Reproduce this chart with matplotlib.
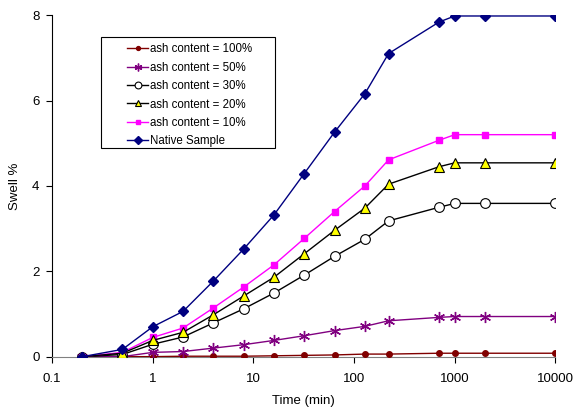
import matplotlib
matplotlib.use("Agg")
import matplotlib.pyplot as plt
from matplotlib.patches import Rectangle
from matplotlib.ticker import FixedLocator, FixedFormatter, NullLocator

# Time points (min)
time = [0.2, 0.5, 1, 2, 4, 8, 16, 32, 64, 128, 220, 700, 1000, 2000, 10000]

# Swell % for each series
ash100 = [0, 0, 0.0, 0.01, 0.01, 0.01, 0.02, 0.03, 0.04, 0.06, 0.06, 0.08, 0.08, 0.08, 0.08]
ash50 = [0, 0, 0.10, 0.12, 0.20, 0.28, 0.38, 0.49, 0.61, 0.71, 0.84, 0.92, 0.94, 0.94, 0.94]
ash30 = [0, 0.05, 0.29, 0.46, 0.79, 1.12, 1.49, 1.91, 2.35, 2.75, 3.18, 3.50, 3.59, 3.59, 3.59]
ash20 = [0, 0.08, 0.38, 0.57, 0.98, 1.42, 1.86, 2.41, 2.96, 3.48, 4.04, 4.45, 4.54, 4.54, 4.54]
ash10 = [0, 0.10, 0.45, 0.67, 1.14, 1.63, 2.15, 2.77, 3.40, 4.00, 4.61, 5.07, 5.20, 5.20, 5.20]
native = [0, 0.17, 0.70, 1.06, 1.77, 2.52, 3.32, 4.29, 5.26, 6.16, 7.10, 7.84, 7.98, 7.98, 7.98]

xticks = [0.1, 1, 10, 100, 1000, 10000]
xlabels = ["0.1", "1", "10", "100", "1000", "10000"]

plt.rcParams["font.family"] = ["Liberation Sans", "DejaVu Sans"]

fig = plt.figure(figsize=(5.8, 4.09), dpi=100)
ax = fig.add_axes([0.0897, 0.128, 0.868, 0.835])

ax.plot(time, ash100, color="#800000", lw=1, marker="o", ms=4,
        mfc="#800000", mec="#800000", label="ash content = 100%", zorder=3)
ax.plot(time, ash50, color="#800080", lw=1, marker=(6, 2, 0), ms=8,
        mec="#800080", mew=1, label="ash content = 50%", zorder=3)
ax.plot(time, ash30, color="black", lw=1, marker="o", ms=7,
        mfc="white", mec="black", mew=0.8, label="ash content = 30%", zorder=4)
ax.plot(time, ash20, color="black", lw=1, marker="^", ms=6.5,
        mfc="#FFFF00", mec="black", mew=0.8, label="ash content = 20%", zorder=5)
ax.plot(time, ash10, color="#FF00FF", lw=1, marker="s", ms=5,
        mfc="#FF00FF", mec="#FF00FF", label="ash content = 10%", zorder=4)
ax.plot(time, native, color="#000080", lw=1, marker="D", ms=5.5,
        mfc="#000080", mec="#000080", label="Native Sample", zorder=6)

ax.set_xscale("log")
ax.set_xlim(0.1, 10000)
ax.set_ylim(0, 8)
ax.xaxis.set_major_locator(FixedLocator(xticks))
ax.xaxis.set_major_formatter(FixedFormatter(xlabels))
ax.xaxis.set_minor_locator(NullLocator())
ax.set_yticks([0, 2, 4, 6, 8])

for s in ["top", "right"]:
    ax.spines[s].set_visible(False)
ax.spines["left"].set_linewidth(0.8)
ax.spines["bottom"].set_linewidth(0.8)
ax.spines["bottom"].set_color("#808080")
ax.tick_params(axis="both", direction="out", length=4, width=0.8, labelsize=9.5)
ax.tick_params(axis="x", pad=8)
ax.tick_params(axis="y", pad=5)

ax.set_xlabel("Time (min)", fontsize=9.5, labelpad=7)
ax.set_ylabel("Swell %", fontsize=9.5, labelpad=8)

# legend without its own frame, box drawn separately for wider side padding
leg = fig.legend(loc="upper left", bbox_to_anchor=(127 / 580, (409 - 43.5) / 409),
                 fontsize=8.3, frameon=False, borderpad=0, borderaxespad=0,
                 handlelength=1.85, handletextpad=0.15, labelspacing=0.55,
                 markerscale=0.7)
fig.add_artist(Rectangle((101 / 580, (409 - 148) / 409), 174 / 580, 111 / 409,
                         transform=fig.transFigure, facecolor="white",
                         edgecolor="black", lw=0.8, zorder=2))
leg.set_zorder(3)

fig.savefig("out.png", dpi=100)
